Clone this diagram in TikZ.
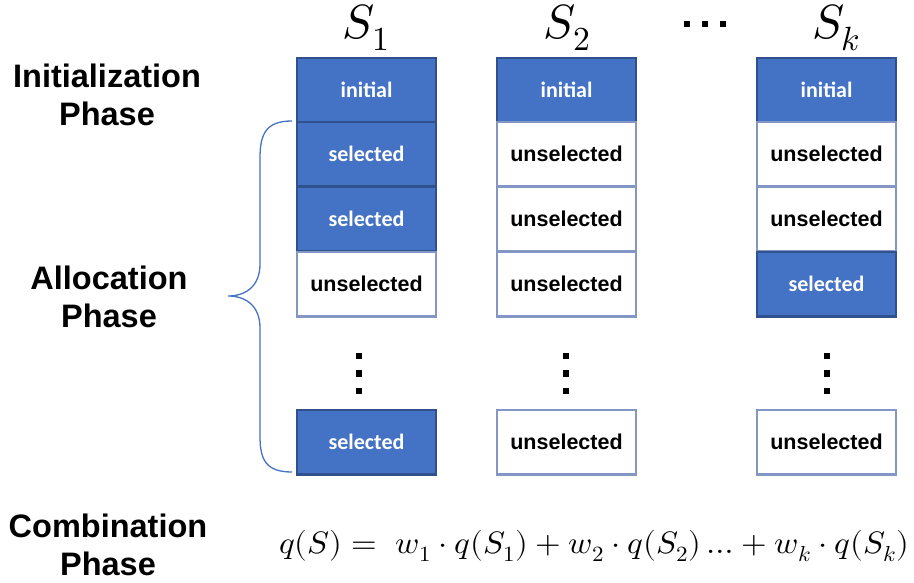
\documentclass[tikz,border=0pt]{standalone}
\usepackage{fontspec}
\usepackage{unicode-math}
\setmainfont{Liberation Sans}
\setmathfont{Latin Modern Math}
\newfontfamily\calibri{Carlito}
\usetikzlibrary{positioning}

\definecolor{selblue}{HTML}{4472C4}
\definecolor{selborder}{HTML}{2F528F}
\definecolor{unselborder}{HTML}{8397C4}

\tikzset{
  cell/.style={rectangle, minimum width=139pt, minimum height=64.5pt, inner sep=0pt},
  chosen/.style={cell, fill=selblue, draw=selborder, line width=2.6pt,
    text=white, font=\calibri\bfseries\fontsize{22}{26}\selectfont},
  idle/.style={cell, fill=white, draw=unselborder, line width=2.4pt,
    text=black, font=\bfseries\fontsize{21.5}{26}\selectfont},
  phase/.style={align=center, font=\bfseries\fontsize{32.5}{38}\selectfont},
  header/.style={font=\fontsize{48}{48}\selectfont},
  vdot/.style={fill=black},
  brace/.style={draw=selblue, line width=1.3pt}
}

\begin{document}
\begin{tikzpicture}[x=1pt, y=-1pt]
\useasboundingbox (0,0) rectangle (914,583);

% column headers
\node[header] (h1) at (366,28) {$S_1$};
\node[header] (h2) at (567,28) {$S_2$};
\node[header] (h3) at (836,28) {$S_k$};
\foreach \x in {687,705,723} \fill[vdot] (\x-3.2,20.8) rectangle (\x+3.2,27.2);

% phase labels
\node[phase] (pinit) at (107,95) {Initialization\\Phase};
\node[phase] (palloc) at (109,297) {Allocation\\Phase};
\node[phase] (pcomb) at (108,545) {Combination\\Phase};

% column S_1
\node[chosen] (a1) at (366.5,90.3)  {initial};
\node[chosen] (a2) at (366.5,154.3) {selected};
\node[chosen] (a3) at (366.5,218.8) {selected};
\node[idle]   (a4) at (366.5,284.3) {unselected};
\node[chosen] (a5) at (366.5,442.3) {selected};

% column S_2
\node[chosen] (b1) at (566.5,90.3)  {initial};
\node[idle]   (b2) at (566.5,154.3) {unselected};
\node[idle]   (b3) at (566.5,218.8) {unselected};
\node[idle]   (b4) at (566.5,284.3) {unselected};
\node[idle]   (b5) at (566.5,442.3) {unselected};

% column S_k
\node[chosen] (c1) at (826.5,90.3)  {initial};
\node[idle]   (c2) at (826.5,154.3) {unselected};
\node[idle]   (c3) at (826.5,218.8) {unselected};
\node[chosen] (c4) at (826.5,284.3) {selected};
\node[idle]   (c5) at (826.5,442.3) {unselected};

% vertical ellipses between the rows
\foreach \x in {359,566,827}
  \foreach \y in {356,373.5,391}
    \fill[vdot] (\x-3.2,\y-3.2) rectangle (\x+3.2,\y+3.2);

% brace spanning the allocation rows
\coordinate (btop) at (292,121);
\coordinate (btip) at (228,296);
\coordinate (bbot) at (292,472);
\draw[brace] (btop) .. controls (266,121) and (260,134) .. (260,158)
  -- (260,264) .. controls (260,286) and (246,296) .. (btip)
  .. controls (246,296) and (260,306) .. (260,328)
  -- (260,436) .. controls (260,460) and (266,472) .. (bbot);

% combination formula
\node[font=\fontsize{31}{34}\selectfont, anchor=west, inner sep=0pt] (formula) at (279,546)
  {\scalebox{1.06}[1]{$q(S) =\; w_1\cdot q(S_1) + w_2\cdot q(S_2) \ldots + w_k\cdot q(S_k)$}};
\end{tikzpicture}
\end{document}
